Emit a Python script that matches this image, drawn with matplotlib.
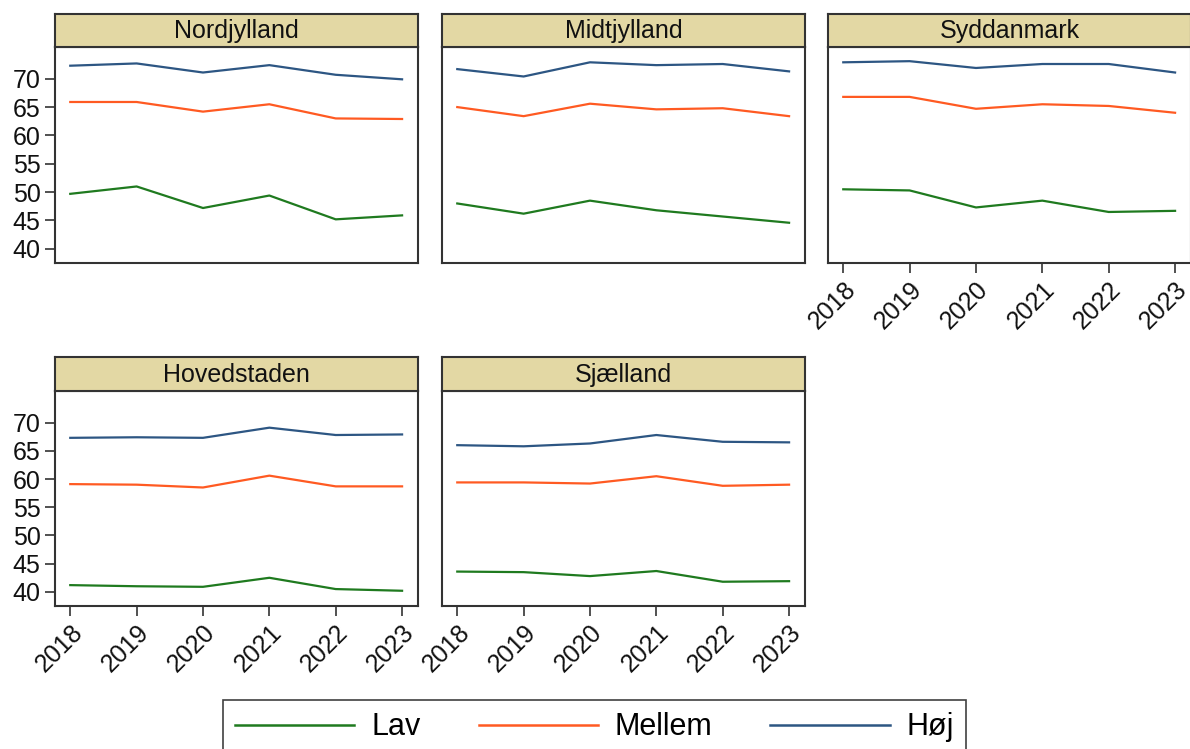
import numpy as np
import matplotlib
matplotlib.use("Agg")
import matplotlib.pyplot as plt
from matplotlib.lines import Line2D

plt.rcParams['font.family'] = ['Liberation Sans', 'DejaVu Sans']

years = [2018, 2019, 2020, 2021, 2022, 2023]
regions = ["Nordjylland", "Midtjylland", "Syddanmark", "Hovedstaden", "Sjælland"]
levels = ["Lav", "Mellem", "Høj"]

# values per region, one list per education level
lav = {
    "Nordjylland": [49.7, 51.0, 47.2, 49.4, 45.2, 45.9],
    "Midtjylland": [48.0, 46.2, 48.5, 46.8, 45.7, 44.6],
    "Syddanmark":  [50.5, 50.3, 47.3, 48.5, 46.5, 46.7],
    "Hovedstaden": [41.2, 41.0, 40.9, 42.5, 40.5, 40.2],
    "Sjælland":    [43.6, 43.5, 42.8, 43.7, 41.8, 41.9],
}
mellem = {
    "Nordjylland": [65.9, 65.9, 64.2, 65.5, 63.0, 62.9],
    "Midtjylland": [65.0, 63.4, 65.6, 64.6, 64.8, 63.4],
    "Syddanmark":  [66.8, 66.8, 64.7, 65.5, 65.2, 64.0],
    "Hovedstaden": [59.1, 59.0, 58.5, 60.6, 58.7, 58.7],
    "Sjælland":    [59.4, 59.4, 59.2, 60.5, 58.8, 59.0],
}
hoej = {
    "Nordjylland": [72.3, 72.7, 71.1, 72.4, 70.7, 69.9],
    "Midtjylland": [71.7, 70.4, 72.9, 72.4, 72.6, 71.3],
    "Syddanmark":  [72.9, 73.1, 71.9, 72.6, 72.6, 71.1],
    "Hovedstaden": [67.3, 67.4, 67.3, 69.1, 67.8, 67.9],
    "Sjælland":    [66.0, 65.8, 66.3, 67.8, 66.6, 66.5],
}
yticks = [40, 45, 50, 55, 60, 65, 70]

colors = {"Lav": "#1f7a1f", "Mellem": "#ff5a22", "Høj": "#2d5683"}
strip_color = "#e3d8a4"
edge = "#333333"
fs = 18

fig = plt.figure(figsize=(11.9, 7.49), dpi=100)
W, H = 1190, 749

# panel boxes in pixels: left, width, box top, box bottom, header top
cols = [55, 442, 828]
pw = 363
rows = [(47, 263, 14), (391, 606, 357)]
positions = {
    "Nordjylland": (0, 0), "Midtjylland": (0, 1), "Syddanmark": (0, 2),
    "Hovedstaden": (1, 0), "Sjælland": (1, 1),
}

for reg in regions:
    r, c = positions[reg]
    top, bot, htop = rows[r]
    x0 = cols[c]
    ax = fig.add_axes([x0 / W, 1 - bot / H, pw / W, (bot - top) / H])
    data = {"Lav": lav[reg], "Mellem": mellem[reg], "Høj": hoej[reg]}
    for lev in levels:
        ax.plot(years, data[lev], color=colors[lev], lw=1.6)
    ax.set_xlim(2017.77, 2023.24)
    ax.set_ylim(37.5, 75.6)
    for s in ax.spines.values():
        s.set_color(edge)
        s.set_linewidth(1.5)
    ax.tick_params(direction='out', length=7, width=1.2, color=edge,
                   labelsize=fs, labelcolor="#111111")
    # y ticks only on the left column
    if c == 0:
        ax.set_yticks(yticks)
    else:
        ax.set_yticks([])
    # x ticks only where no panel sits below
    if r == 1 or reg == "Syddanmark":
        ax.set_xticks(years)
        ax.set_xticklabels([str(y) for y in years], rotation=45,
                           ha='right', rotation_mode='anchor')
    else:
        ax.set_xticks([])

    # strip header above the panel
    hx = fig.add_axes([x0 / W, 1 - top / H, pw / W, (top - htop) / H])
    hx.set_facecolor(strip_color)
    hx.set_xticks([])
    hx.set_yticks([])
    for s in hx.spines.values():
        s.set_color(edge)
        s.set_linewidth(1.5)
    hx.text(0.5, 0.47, reg, ha='center', va='center', fontsize=fs,
            color="#111111", transform=hx.transAxes)

handles = [Line2D([], [], color=colors[lev], lw=1.8) for lev in levels]
leg = fig.legend(handles, levels, loc='upper center',
                 bbox_to_anchor=(594.5 / W, 1 - 700 / H),
                 ncol=3, fontsize=22, frameon=True, fancybox=False,
                 edgecolor="#111111", handlelength=3.9, handletextpad=0.55,
                 columnspacing=1.9, borderpad=0.4, borderaxespad=0)
leg.get_frame().set_linewidth(1.2)

fig.savefig("out.png", dpi=100)
